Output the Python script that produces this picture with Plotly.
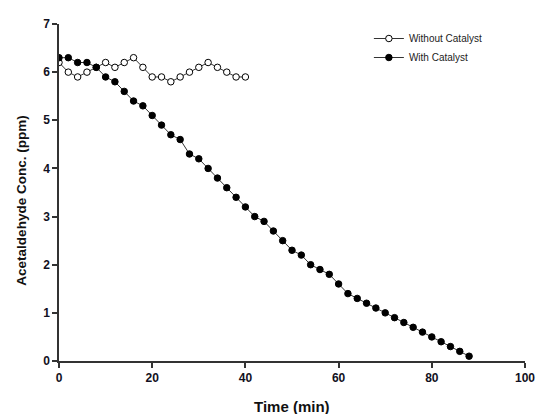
import plotly.graph_objects as go

time_without = [0, 2, 4, 6, 8, 10, 12, 14, 16, 18, 20, 22, 24, 26, 28, 30, 32, 34, 36, 38, 40]
conc_without = [6.2, 6.0, 5.9, 6.0, 6.1, 6.2, 6.1, 6.2, 6.3, 6.1, 5.9, 5.9, 5.8, 5.9, 6.0, 6.1, 6.2, 6.1, 6.0, 5.9, 5.9]

time_with = list(range(0, 90, 2))
conc_with = [6.3, 6.3, 6.2, 6.2, 6.1, 5.9, 5.8, 5.6, 5.4, 5.3, 5.1, 4.9, 4.7, 4.6, 4.3, 4.2, 4.0, 3.8,
             3.6, 3.4, 3.2, 3.0, 2.9, 2.7, 2.5, 2.3, 2.2, 2.0, 1.9, 1.8, 1.6, 1.4, 1.3, 1.2, 1.1, 1.0,
             0.9, 0.8, 0.7, 0.6, 0.5, 0.4, 0.3, 0.2, 0.1]

x_ticks = [0, 20, 40, 60, 80, 100]
y_ticks = [0, 1, 2, 3, 4, 5, 6, 7]

fig = go.Figure()
fig.add_trace(go.Scatter(
    x=time_without, y=conc_without, mode="lines+markers", name="Without Catalyst",
    line=dict(color="#333333", width=1),
    marker=dict(symbol="circle", size=6.5, color="white", line=dict(color="black", width=1)),
))
fig.add_trace(go.Scatter(
    x=time_with, y=conc_with, mode="lines+markers", name="With Catalyst",
    line=dict(color="#333333", width=1),
    marker=dict(symbol="circle", size=6.5, color="black", line=dict(color="black", width=1)),
))

axis_font = dict(family="Liberation Sans, Arial", size=12, color="#111122")
fig.update_layout(
    width=536, height=414,
    margin=dict(l=59, r=11, t=24, b=53),
    paper_bgcolor="white", plot_bgcolor="white",
    font=dict(family="Liberation Sans, Arial", color="#111111"),
    showlegend=True,
    legend=dict(x=0.665, y=1.0, xanchor="left", yanchor="top",
                font=dict(size=10, family="Liberation Sans, Arial", color="#222222"),
                bgcolor="rgba(0,0,0,0)", tracegroupgap=0, itemwidth=30),
    xaxis=dict(range=[0, 100], tickvals=x_ticks, ticktext=[f"<b>{v}</b>" for v in x_ticks],
               showline=True, linecolor="#333333", linewidth=1.5, mirror=False,
               ticks="outside", ticklen=5, tickcolor="#333333", tickwidth=1.5,
               showgrid=False, zeroline=False, tickfont=axis_font, automargin=False),
    yaxis=dict(range=[0, 7], tickvals=y_ticks, ticktext=[f"<b>{v}</b>" for v in y_ticks],
               showline=True, linecolor="#333333", linewidth=1.5, mirror=False,
               ticks="outside", ticklen=5, tickcolor="#333333", tickwidth=1.5,
               showgrid=False, zeroline=False, tickfont=axis_font, automargin=False),
    annotations=[
        dict(text="<b>Time (min)</b>", xref="paper", yref="paper", x=0.5, y=-0.136,
             xanchor="center", yanchor="middle", showarrow=False,
             font=dict(size=15, family="Liberation Sans, Arial", color="#111111")),
        dict(text="<b>Acetaldehyde Conc. (ppm)</b>", xref="paper", yref="paper", x=-0.08, y=0.475,
             xanchor="center", yanchor="middle", showarrow=False, textangle=-90,
             font=dict(size=13.5, family="Liberation Sans, Arial", color="#111111")),
    ],
)

fig.write_html("out.html", config={"displayModeBar": False},
               post_script="document.body.style.margin='0';document.body.style.overflow='hidden';")
